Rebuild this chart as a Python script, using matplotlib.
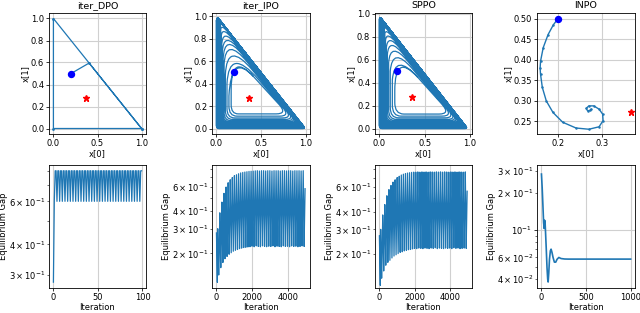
import numpy as np
import matplotlib.pyplot as plt
from matplotlib.path import Path
from matplotlib.patches import PathPatch

# ---- data ----
nash = (0.364, 0.273)
start = (0.2, 0.5)

# iter_DPO: jumps onto the simplex edge, then cycles the vertices
dpo_x = [0.2, 0.405, 1.0, 0.0, 0.0, 1.0]
dpo_y = [0.5, 0.595, 0.0, 0.0, 1.0, 0.0]

# iter_IPO / SPPO outward spiral, one entry per loop:
# left side x, bottom side y, bottom-right corner x, top-left corner y,
# and the rounding of the top, bottom-left and bottom-right corners
ipo_left = [0.165, 0.14, 0.118, 0.10, 0.086, 0.075, 0.066, 0.059, 0.053, 0.048,
            0.043, 0.039, 0.035, 0.032, 0.029, 0.026, 0.023, 0.021, 0.019, 0.017,
            0.015, 0.013, 0.012, 0.011, 0.010, 0.009, 0.008, 0.007, 0.006, 0.005,
            0.0045, 0.004, 0.0035, 0.003, 0.0025, 0.002, 0.0015, 0.001, 0.0005, 0.0]
ipo_bottom = [0.13, 0.11, 0.094, 0.081, 0.07, 0.061, 0.054, 0.048, 0.043, 0.039,
              0.035, 0.031, 0.028, 0.025, 0.022, 0.02, 0.018, 0.016, 0.014, 0.012,
              0.011, 0.01, 0.009, 0.008, 0.007, 0.006, 0.0055, 0.005, 0.0045, 0.004,
              0.0035, 0.003, 0.0025, 0.002, 0.0017, 0.0013, 0.001, 0.0007, 0.0003, 0.0]
ipo_right = [0.80, 0.83, 0.855, 0.875, 0.89, 0.90, 0.91, 0.918, 0.925, 0.931,
             0.937, 0.942, 0.947, 0.951, 0.955, 0.959, 0.962, 0.965, 0.968, 0.971,
             0.973, 0.975, 0.977, 0.979, 0.981, 0.983, 0.985, 0.987, 0.988, 0.989,
             0.990, 0.991, 0.992, 0.993, 0.994, 0.995, 0.996, 0.997, 0.998, 0.999]
ipo_top = [0.68, 0.74, 0.79, 0.83, 0.86, 0.885, 0.905, 0.922, 0.936, 0.948,
           0.957, 0.964, 0.969, 0.973, 0.976, 0.979, 0.981, 0.983, 0.985, 0.986,
           0.987, 0.988, 0.989, 0.990, 0.991, 0.992, 0.993, 0.994, 0.995, 0.996,
           0.996, 0.997, 0.997, 0.998, 0.998, 0.999, 0.999, 0.999, 1.0, 1.0]
ipo_rtop = [0.33, 0.45, 0.39, 0.35, 0.29, 0.27, 0.23, 0.18, 0.12, 0.065,
            0.041, 0.03, 0.03, 0.03, 0.03, 0.03, 0.03, 0.03, 0.03, 0.03,
            0.03, 0.03, 0.03, 0.03, 0.03, 0.03, 0.03, 0.03, 0.03, 0.03,
            0.03, 0.03, 0.03, 0.03, 0.035, 0.035, 0.04, 0.04, 0.045, 0.045]
ipo_rbl = [0.08, 0.09, 0.085, 0.08, 0.075, 0.07, 0.065, 0.06, 0.055, 0.05,
           0.045, 0.04, 0.035, 0.03, 0.025, 0.025, 0.025, 0.025, 0.025, 0.025,
           0.025, 0.025, 0.025, 0.025, 0.025, 0.025, 0.025, 0.025, 0.025, 0.025,
           0.025, 0.025, 0.025, 0.025, 0.025, 0.025, 0.025, 0.025, 0.025, 0.025]
ipo_rbr = [0.13, 0.12, 0.11, 0.10, 0.09, 0.08, 0.07, 0.065, 0.06, 0.055,
           0.05, 0.045, 0.04, 0.035, 0.03, 0.025, 0.025, 0.025, 0.025, 0.025,
           0.025, 0.025, 0.025, 0.025, 0.025, 0.025, 0.025, 0.025, 0.025, 0.025,
           0.025, 0.025, 0.025, 0.025, 0.025, 0.025, 0.025, 0.025, 0.025, 0.025]

sppo_left = [0.17, 0.143, 0.12, 0.102, 0.088, 0.076, 0.067, 0.06, 0.054, 0.048,
             0.043, 0.039, 0.035, 0.032, 0.029, 0.026, 0.023, 0.021, 0.019, 0.017,
             0.015, 0.013, 0.012, 0.011, 0.010, 0.009, 0.008, 0.007, 0.006, 0.005,
             0.0045, 0.004, 0.0035, 0.003, 0.0025, 0.002, 0.0015, 0.001, 0.0005, 0.0]
sppo_bottom = [0.126, 0.108, 0.093, 0.08, 0.07, 0.062, 0.055, 0.049, 0.044, 0.039,
               0.035, 0.031, 0.028, 0.025, 0.022, 0.02, 0.018, 0.016, 0.014, 0.012,
               0.011, 0.01, 0.009, 0.008, 0.007, 0.006, 0.0055, 0.005, 0.0045, 0.004,
               0.0035, 0.003, 0.0025, 0.002, 0.0017, 0.0013, 0.001, 0.0007, 0.0003, 0.0]
sppo_right = [0.79, 0.815, 0.838, 0.856, 0.87, 0.881, 0.89, 0.898, 0.905, 0.911,
              0.917, 0.922, 0.927, 0.931, 0.935, 0.939, 0.942, 0.945, 0.948, 0.951,
              0.953, 0.955, 0.957, 0.959, 0.961, 0.963, 0.965, 0.966, 0.967, 0.968,
              0.969, 0.970, 0.971, 0.972, 0.973, 0.974, 0.975, 0.975, 0.976, 0.976]
sppo_top = [0.67, 0.725, 0.77, 0.805, 0.835, 0.858, 0.876, 0.892, 0.905, 0.916,
            0.925, 0.933, 0.94, 0.945, 0.95, 0.954, 0.957, 0.96, 0.962, 0.964,
            0.966, 0.967, 0.968, 0.969, 0.97, 0.971, 0.972, 0.973, 0.974, 0.974,
            0.975, 0.975, 0.976, 0.976, 0.977, 0.977, 0.978, 0.978, 0.979, 0.979]
sppo_rtop = [0.34, 0.30, 0.27, 0.23, 0.19, 0.16, 0.11, 0.065, 0.03, 0.03,
             0.03, 0.03, 0.03, 0.03, 0.03, 0.03, 0.03, 0.03, 0.03, 0.03,
             0.03, 0.03, 0.03, 0.03, 0.03, 0.03, 0.03, 0.03, 0.03, 0.03,
             0.03, 0.03, 0.03, 0.03, 0.03, 0.03, 0.03, 0.03, 0.03, 0.03]
sppo_rbl = [0.10, 0.095, 0.09, 0.085, 0.08, 0.075, 0.07, 0.065, 0.06, 0.055,
            0.05, 0.045, 0.04, 0.035, 0.03, 0.025, 0.025, 0.025, 0.025, 0.025,
            0.025, 0.025, 0.025, 0.025, 0.025, 0.025, 0.025, 0.025, 0.025, 0.025,
            0.025, 0.025, 0.025, 0.025, 0.025, 0.025, 0.025, 0.025, 0.025, 0.025]
sppo_rbr = [0.13, 0.12, 0.11, 0.10, 0.09, 0.08, 0.07, 0.065, 0.06, 0.055,
            0.05, 0.045, 0.04, 0.035, 0.03, 0.025, 0.025, 0.025, 0.025, 0.025,
            0.025, 0.025, 0.025, 0.025, 0.025, 0.025, 0.025, 0.025, 0.025, 0.025,
            0.025, 0.025, 0.025, 0.025, 0.025, 0.025, 0.025, 0.025, 0.025, 0.025]

# INPO trajectory
inpo_x = [0.200, 0.190, 0.178, 0.167, 0.161, 0.160, 0.161, 0.165, 0.174, 0.189, 0.211, 0.241,
          0.270, 0.293, 0.302, 0.301, 0.293, 0.281, 0.270, 0.264, 0.267, 0.273, 0.275]
inpo_y = [0.500, 0.486, 0.462, 0.430, 0.397, 0.380, 0.365, 0.333, 0.300, 0.272, 0.248, 0.234,
          0.231, 0.237, 0.252, 0.268, 0.280, 0.288, 0.288, 0.282, 0.276, 0.277, 0.280]

# equilibrium gap, iter_DPO (one value per iteration)
dpo_gap = [0.28, 0.60,
           0.80, 0.80, 0.60, 0.80, 0.80, 0.60, 0.80, 0.80, 0.60, 0.80, 0.80, 0.60,
           0.80, 0.80, 0.60, 0.80, 0.80, 0.60, 0.80, 0.80, 0.60, 0.80, 0.80, 0.60,
           0.80, 0.80, 0.60, 0.80, 0.80, 0.60, 0.80, 0.80, 0.60, 0.80, 0.80, 0.60,
           0.80, 0.80, 0.60, 0.80, 0.80, 0.60, 0.80, 0.80, 0.60, 0.80, 0.80, 0.60,
           0.80, 0.80, 0.60, 0.80, 0.80, 0.60, 0.80, 0.80, 0.60, 0.80, 0.80, 0.60,
           0.80, 0.80, 0.60, 0.80, 0.80, 0.60, 0.80, 0.80, 0.60, 0.80, 0.80, 0.60,
           0.80, 0.80, 0.60, 0.80, 0.80, 0.60, 0.80, 0.80, 0.60, 0.80, 0.80, 0.60,
           0.80, 0.80, 0.60, 0.80, 0.80, 0.60, 0.80, 0.80, 0.60, 0.80, 0.80, 0.60,
           0.80, 0.80]

# equilibrium gap, iter_IPO / SPPO: start, then per-cycle extremes
gap_start_it = [0, 25, 50]
ipo_start_gap = [0.28, 0.19, 0.124]
sppo_start_gap = [0.27, 0.18, 0.120]
cycle_first, cycle_len = 60, 117
ipo_hi = [0.30, 0.39, 0.465, 0.537, 0.596, 0.64, 0.672, 0.697, 0.719, 0.73, 0.742,
          0.752, 0.758, 0.763, 0.767, 0.771, 0.773, 0.775, 0.778, 0.78, 0.776, 0.78,
          0.78, 0.777, 0.78, 0.78, 0.776, 0.78, 0.779, 0.78, 0.776, 0.78, 0.78, 0.777,
          0.78, 0.78, 0.776, 0.78, 0.779, 0.78, 0.777, 0.78]
ipo_band_top = [0.27, 0.34, 0.40, 0.45, 0.49, 0.52, 0.54, 0.555, 0.565, 0.57, 0.575,
                0.58, 0.58, 0.58, 0.58, 0.58, 0.58, 0.58, 0.58, 0.58, 0.58, 0.58,
                0.58, 0.58, 0.58, 0.58, 0.58, 0.58, 0.58, 0.58, 0.58, 0.58, 0.58, 0.58,
                0.58, 0.58, 0.58, 0.58, 0.58, 0.58, 0.58, 0.58]
ipo_band_bot = [0.15, 0.175, 0.195, 0.21, 0.225, 0.24, 0.25, 0.26, 0.27, 0.278, 0.285,
                0.29, 0.295, 0.298, 0.30, 0.30, 0.30, 0.30, 0.30, 0.30, 0.30, 0.30,
                0.30, 0.30, 0.30, 0.30, 0.30, 0.30, 0.30, 0.30, 0.30, 0.30, 0.30, 0.30,
                0.30, 0.30, 0.30, 0.30, 0.30, 0.30, 0.30, 0.30]
ipo_lo = [0.14, 0.158, 0.172, 0.183, 0.19, 0.197, 0.202, 0.207, 0.21, 0.213, 0.216,
          0.218, 0.22, 0.221, 0.222, 0.223, 0.225, 0.223, 0.226, 0.224, 0.223, 0.226,
          0.224, 0.223, 0.225, 0.224, 0.226, 0.223, 0.225, 0.224, 0.223, 0.226, 0.224,
          0.225, 0.223, 0.226, 0.224, 0.225, 0.223, 0.224, 0.226, 0.224]

sppo_hi = [0.30, 0.38, 0.45, 0.52, 0.575, 0.615, 0.65, 0.675, 0.70, 0.715, 0.73,
           0.74, 0.748, 0.754, 0.758, 0.762, 0.765, 0.765, 0.768, 0.765, 0.768, 0.766,
           0.768, 0.765, 0.768, 0.767, 0.765, 0.768, 0.766, 0.768, 0.765, 0.768, 0.767,
           0.765, 0.768, 0.766, 0.768, 0.765, 0.768, 0.767, 0.765, 0.768]
sppo_band_top = [0.27, 0.33, 0.39, 0.44, 0.48, 0.51, 0.53, 0.545, 0.555, 0.56, 0.56,
                 0.56, 0.56, 0.56, 0.56, 0.56, 0.56, 0.56, 0.56, 0.56, 0.56, 0.56,
                 0.56, 0.56, 0.56, 0.56, 0.56, 0.56, 0.56, 0.56, 0.56, 0.56, 0.56, 0.56,
                 0.56, 0.56, 0.56, 0.56, 0.56, 0.56, 0.56, 0.56]
sppo_band_bot = [0.15, 0.175, 0.195, 0.21, 0.225, 0.235, 0.245, 0.255, 0.265, 0.272, 0.278,
                 0.283, 0.286, 0.289, 0.29, 0.29, 0.29, 0.29, 0.29, 0.29, 0.29, 0.29,
                 0.29, 0.29, 0.29, 0.29, 0.29, 0.29, 0.29, 0.29, 0.29, 0.29, 0.29, 0.29,
                 0.29, 0.29, 0.29, 0.29, 0.29, 0.29, 0.29, 0.29]
sppo_lo = [0.135, 0.152, 0.167, 0.175, 0.181, 0.188, 0.194, 0.198, 0.202, 0.206, 0.208,
           0.211, 0.213, 0.215, 0.216, 0.218, 0.22, 0.219, 0.221, 0.22, 0.219, 0.221,
           0.22, 0.219, 0.221, 0.22, 0.222, 0.219, 0.221, 0.22, 0.219, 0.221, 0.22,
           0.221, 0.219, 0.222, 0.22, 0.221, 0.219, 0.22, 0.221, 0.22]

# equilibrium gap, INPO
inpo_it = [0, 8, 16, 24, 30, 34, 40, 46, 54, 62, 70, 75, 82, 90, 100, 108, 118, 130,
           145, 160, 175, 195, 220, 260, 300, 500, 700, 1000]
inpo_gap = [0.283, 0.22, 0.16, 0.115, 0.103, 0.12, 0.118, 0.095, 0.07, 0.05, 0.04, 0.038,
            0.045, 0.058, 0.068, 0.07, 0.066, 0.06, 0.055, 0.055, 0.058, 0.06, 0.0588,
            0.0583, 0.0582, 0.0582, 0.0582, 0.0582]

plt.rcParams['font.size'] = 6.0
plt.rcParams['axes.linewidth'] = 0.6
plt.rcParams['xtick.major.width'] = 0.55
plt.rcParams['ytick.major.width'] = 0.55
plt.rcParams['xtick.minor.width'] = 0.4
plt.rcParams['ytick.minor.width'] = 0.4
plt.rcParams['xtick.major.size'] = 1.9
plt.rcParams['ytick.major.size'] = 1.9
plt.rcParams['ytick.minor.size'] = 1.1
plt.rcParams['xtick.major.pad'] = 1.6
plt.rcParams['ytick.major.pad'] = 1.6
plt.rcParams['ytick.minor.pad'] = 1.6
plt.rcParams['axes.labelpad'] = 0.8
plt.rcParams['axes.titlesize'] = 6.8
plt.rcParams['axes.titlepad'] = 3.3

C0 = '#1f77b4'
fig = plt.figure(figsize=(6.4, 3.13), dpi=100)


def px_axes(left, top, right, bottom):
    return fig.add_axes([left / 640, 1 - bottom / 313, (right - left) / 640, (bottom - top) / 313])


def spiral(a, b, xr, yt, rt, rbl, rbr):
    verts, codes = [], []
    corner = None
    for k in range(len(a)):
        L = np.hypot(xr[k] - a[k], yt[k] - b[k])
        ux, uy = (xr[k] - a[k]) / L, (b[k] - yt[k]) / L
        p0 = (a[k], yt[k] - rt[k])
        p2 = (a[k] + rt[k] * ux, yt[k] + rt[k] * uy)
        if corner is None:
            verts += [p2, (a[k], yt[k]), p0]
            codes += [Path.MOVETO, Path.CURVE3, Path.CURVE3]
        else:
            verts += [corner, p0]
            codes += [Path.CURVE3, Path.CURVE3]
        verts += [(a[k], b[k] + rbl[k]), (a[k], b[k]), (a[k] + rbl[k], b[k]),
                  (xr[k] - rbr[k], b[k]), (xr[k], b[k]),
                  (xr[k] - rbr[k] * ux, b[k] - rbr[k] * uy), p2]
        codes += [Path.LINETO, Path.CURVE3, Path.CURVE3, Path.LINETO, Path.CURVE3,
                  Path.CURVE3, Path.LINETO]
        corner = (a[k], yt[k])
        last = p0
    verts += [corner, last]
    codes += [Path.CURVE3, Path.CURVE3]
    return Path(verts, codes)


def gap_series(start_it, start_val, hi, top, bot, lo):
    it, val = list(start_it), list(start_val)
    for k in range(len(hi)):
        s = cycle_first + k * cycle_len
        it += [s, s + 12, s + 24, s + 54, s + 66, s + 78]
        val += [top[k], hi[k], top[k], bot[k], lo[k], bot[k]]
    it.append(cycle_first + len(hi) * cycle_len)
    val.append(top[-1])
    return it, val


def simplex_style(ax, title):
    ax.set_title(title)
    ax.set_xlabel('x[0]')
    ax.set_ylabel('x[1]')
    ax.grid(True, color='#d0d0d0', linewidth=0.8)
    ax.set_axisbelow(True)
    ax.plot(*start, 'o', color='blue', markersize=4.3, zorder=5)
    ax.plot(*nash, '*', color='red', markersize=4.5, zorder=5)


def gap_style(ax):
    ax.set_yscale('log')
    ax.set_xlabel('Iteration')
    ax.set_ylabel('Equilibrium Gap')
    ax.grid(True, color='#d0d0d0', linewidth=0.8)
    ax.set_axisbelow(True)


cols = [(49, 146), (212, 310), (375, 472), (537, 635)]

# top row
ax = px_axes(cols[0][0], 13, cols[0][1], 134)
ax.plot(dpo_x, dpo_y, color=C0, linewidth=0.9, marker='o', markersize=1.0)
simplex_style(ax, 'iter_DPO')
ax.set_xlim(-0.05, 1.05)
ax.set_ylim(-0.05, 1.05)

ax = px_axes(cols[1][0], 13, cols[1][1], 134)
ax.add_patch(PathPatch(spiral(ipo_left, ipo_bottom, ipo_right, ipo_top,
                              ipo_rtop, ipo_rbl, ipo_rbr),
                       fill=False, edgecolor=C0, linewidth=0.9))
simplex_style(ax, 'iter_IPO')
ax.set_xlim(-0.05, 1.05)
ax.set_ylim(-0.049, 1.029)

ax = px_axes(cols[2][0], 13, cols[2][1], 134)
ax.add_patch(PathPatch(spiral(sppo_left, sppo_bottom, sppo_right, sppo_top,
                              sppo_rtop, sppo_rbl, sppo_rbr),
                       fill=False, edgecolor=C0, linewidth=0.9))
simplex_style(ax, 'SPPO')
ax.set_xlim(-0.049, 1.025)
ax.set_ylim(-0.048, 1.008)

ax = px_axes(cols[3][0], 13, cols[3][1], 134)
ax.plot(inpo_x, inpo_y, color=C0, linewidth=1.0, marker='o', markersize=0.8)
simplex_style(ax, 'INPO')
ax.set_xlim(0.153, 0.374)
ax.set_ylim(0.2194, 0.5146)

# bottom row
ax = px_axes(cols[0][0], 165, cols[0][1], 288)
ax.plot(range(len(dpo_gap)), dpo_gap, color=C0, linewidth=0.9)
gap_style(ax)
ax.set_xlim(-4.95, 103.95)
ax.set_ylim(0.265, 0.845)

ax = px_axes(cols[1][0], 165, cols[1][1], 288)
ax.plot(*gap_series(gap_start_it, ipo_start_gap, ipo_hi, ipo_band_top, ipo_band_bot, ipo_lo),
        color=C0, linewidth=0.9)
gap_style(ax)
ax.set_xlim(-250, 5250)
ax.set_ylim(0.113, 0.857)

ax = px_axes(cols[2][0], 165, cols[2][1], 288)
ax.plot(*gap_series(gap_start_it, sppo_start_gap, sppo_hi, sppo_band_top, sppo_band_bot, sppo_lo),
        color=C0, linewidth=0.9)
gap_style(ax)
ax.set_xlim(-250, 5250)
ax.set_ylim(0.115, 0.86)

ax = px_axes(cols[3][0], 165, cols[3][1], 288)
ax.plot(inpo_it, inpo_gap, color=C0, linewidth=1.2)
gap_style(ax)
ax.set_xlim(-50, 1049)
ax.set_ylim(0.034, 0.335)

fig.savefig('out.png', dpi=100)
